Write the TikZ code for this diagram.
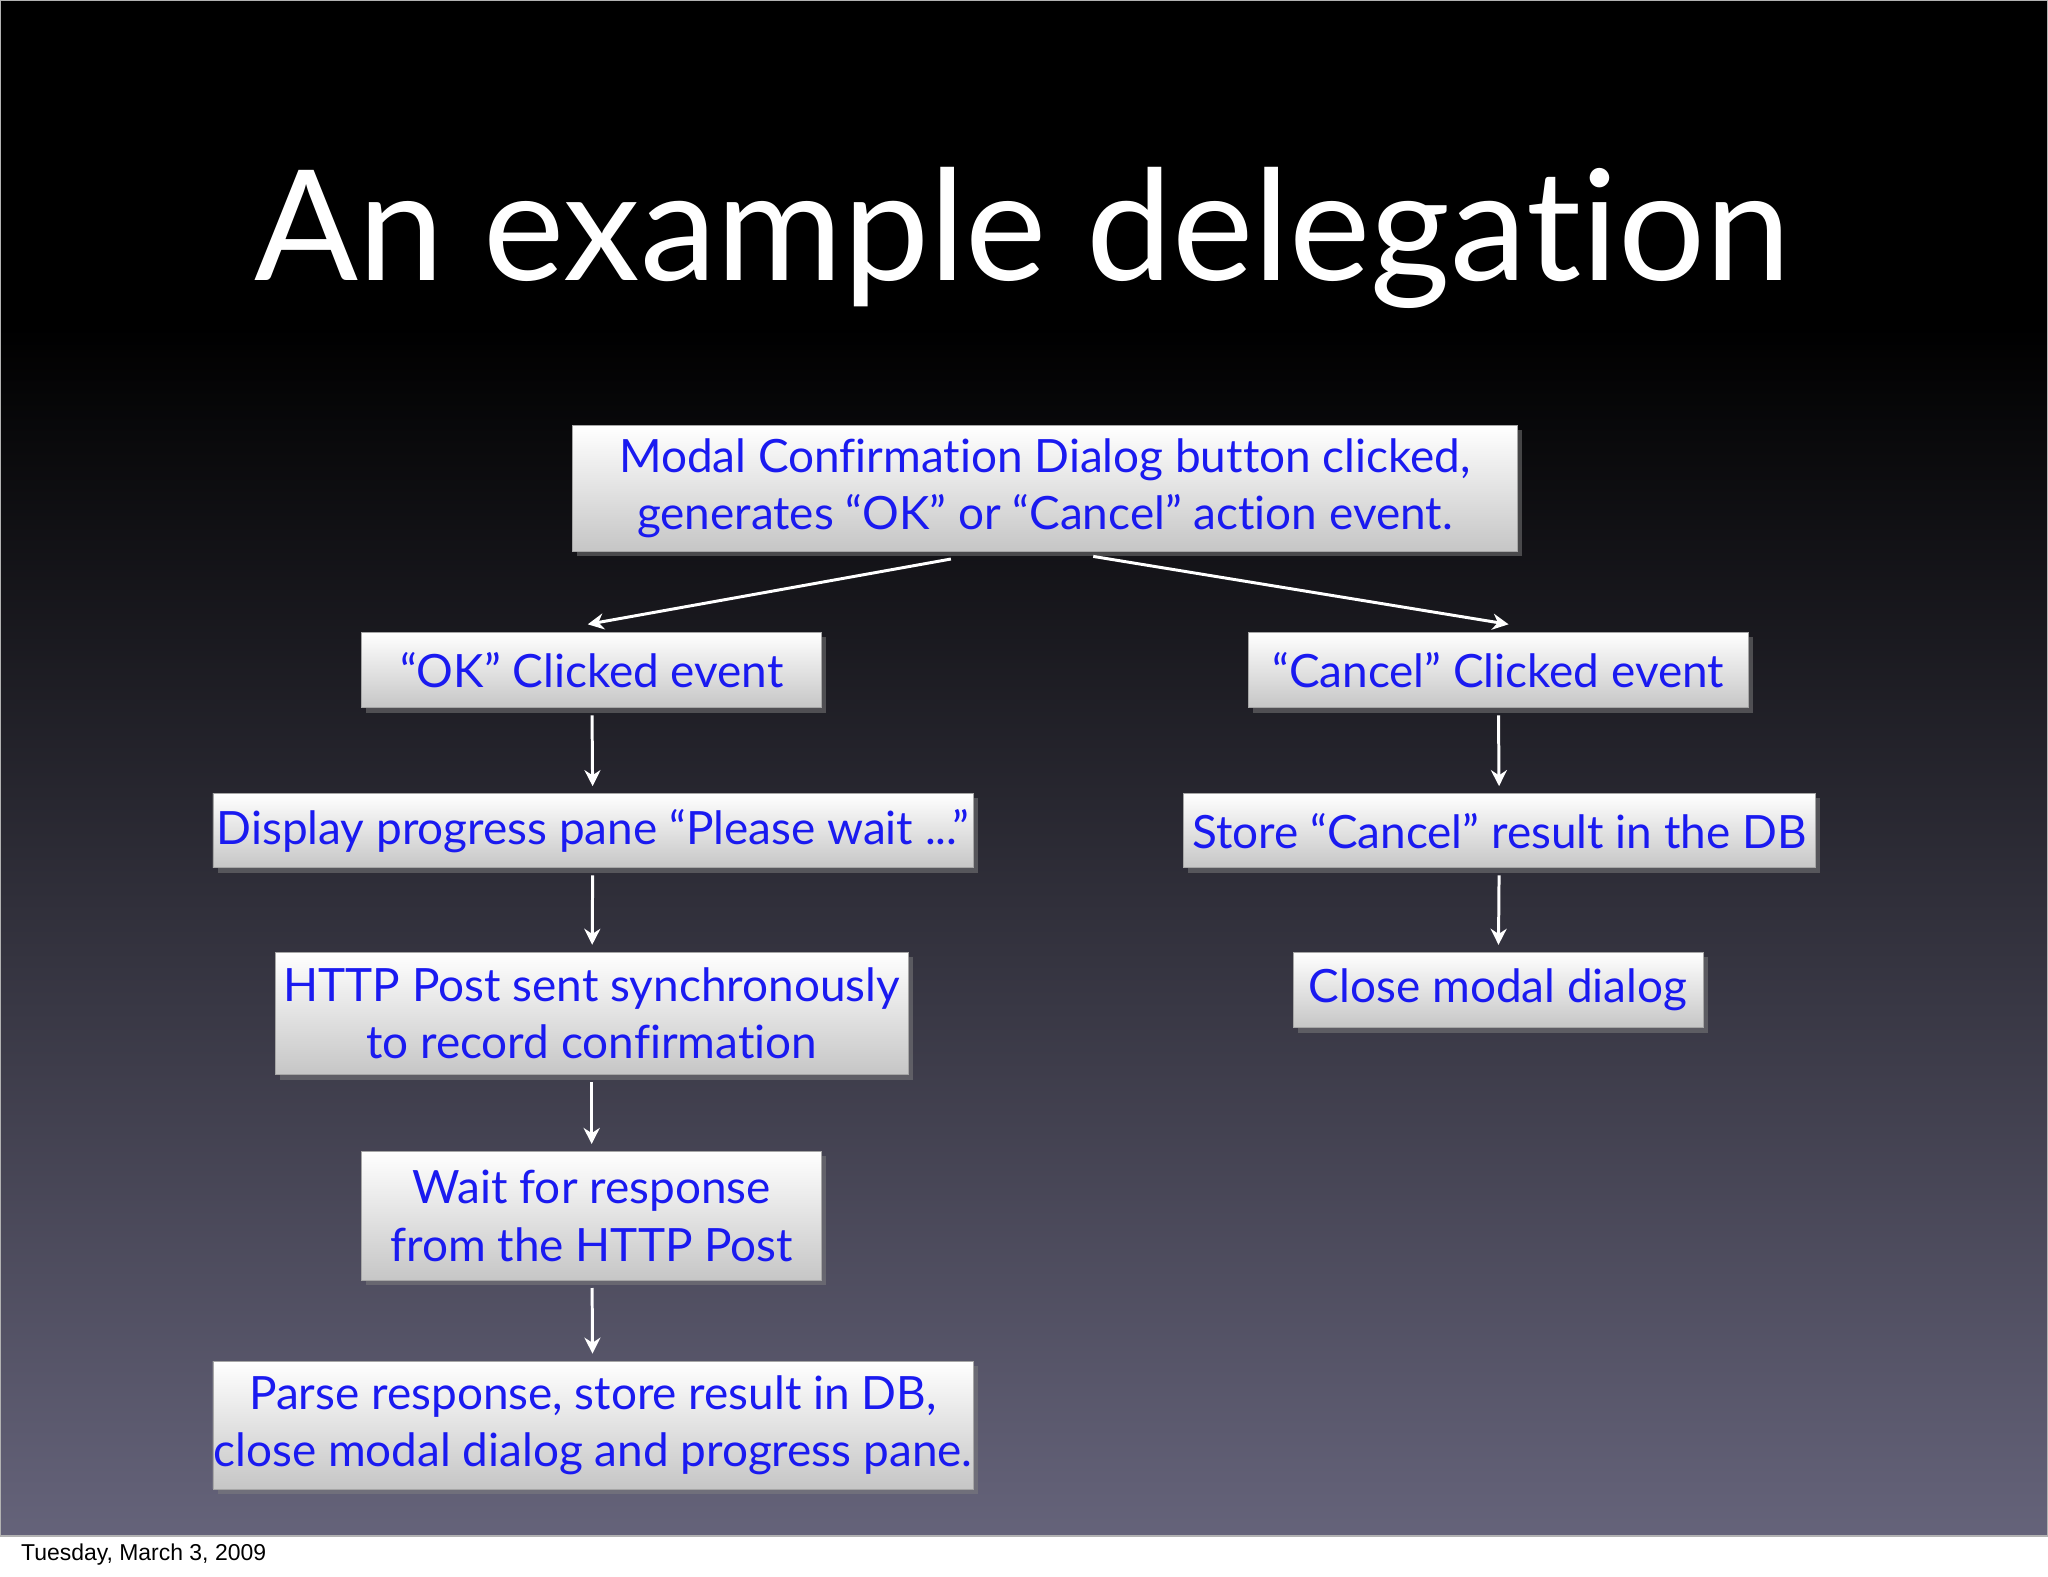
\documentclass[tikz,border=0pt]{standalone}
\usepackage{fontspec}
\setmainfont{Lato}[Ligatures=NoCommon]
\newfontfamily\dateFont{Liberation Sans}
\usetikzlibrary{shadows,arrows.meta}
\definecolor{slidebot}{HTML}{65637A}
\definecolor{boxtext}{HTML}{1A1AF0}
\begin{document}
\begin{tikzpicture}[x=0.02cm,y=-0.02cm,
  bx/.style={draw=gray!70, top color=white, bottom color=gray!45, text=boxtext,
    font=\fontsize{20}{25}\selectfont, align=center, inner sep=0pt,
    drop shadow={shadow xshift=2pt, shadow yshift=-2pt, opacity=0.5}},
  ar/.style={draw=white, line width=1.3pt, -{Stealth[length=7pt,width=7pt]}}]
\useasboundingbox (0,0) rectangle (1568,1207);
\fill[white] (0,0) rectangle (1568,1207);
\fill[black] (0,0) rectangle (1568,250);
\shade[top color=black, bottom color=slidebot] (0,250) rectangle (1568,1176);
\draw[gray!60, line width=0.5pt] (0,0) rectangle (1568,1176);
\node[text=white, font=\fontsize{67}{72}\selectfont] (title) at (783,182) {An example delegation};
\node[anchor=west, font=\dateFont\fontsize{10}{12}\selectfont] (date) at (10,1190) {Tuesday, March 3, 2009};

\node[bx, minimum width=14.48cm, minimum height=1.92cm] (top) at (800,374) {Modal Confirmation Dialog button clicked,\\generates “OK” or “Cancel” action event.};
\node[bx, minimum width=7.04cm, minimum height=1.16cm] (ok) at (453,513) {“OK” Clicked event};
\node[bx, minimum width=7.66cm, minimum height=1.16cm] (cancel) at (1147,513) {“Cancel” Clicked event};
\node[bx, minimum width=11.64cm, minimum height=1.14cm] (disp) at (454,636) {Display progress pane “Please wait ...”};
\node[bx, minimum width=9.68cm, minimum height=1.14cm] (store) at (1148,636) {Store “Cancel” result in the DB};
\node[bx, minimum width=9.7cm, minimum height=1.88cm] (http) at (453,776) {HTTP Post sent synchronously\\to record confirmation};
\node[bx, minimum width=6.28cm, minimum height=1.16cm] (close) at (1147,758) {Close modal dialog};
\node[bx, minimum width=7.04cm, minimum height=1.98cm] (wait) at (453,931) {Wait for response\\from the HTTP Post};
\node[bx, minimum width=11.64cm, minimum height=1.96cm] (parse) at (454,1091) {Parse response, store result in DB,\\close modal dialog and progress pane.};

\coordinate (tl) at (728,428);
\coordinate (tr) at (837,426);
\coordinate (okin) at (450,478);
\coordinate (cain) at (1155,478);
\draw[ar] (tl) -- (okin);
\draw[ar] (tr) -- (cain);
\draw[ar, shorten <=3pt, shorten >=3pt] (ok) -- (disp);
\draw[ar, shorten <=3pt, shorten >=3pt] (disp) -- (http);
\draw[ar, shorten <=3pt, shorten >=3pt] (http) -- (wait);
\draw[ar, shorten <=3pt, shorten >=3pt] (wait) -- (parse);
\draw[ar, shorten <=3pt, shorten >=3pt] (cancel) -- (store);
\draw[ar, shorten <=3pt, shorten >=3pt] (store) -- (close);
\end{tikzpicture}
\end{document}
